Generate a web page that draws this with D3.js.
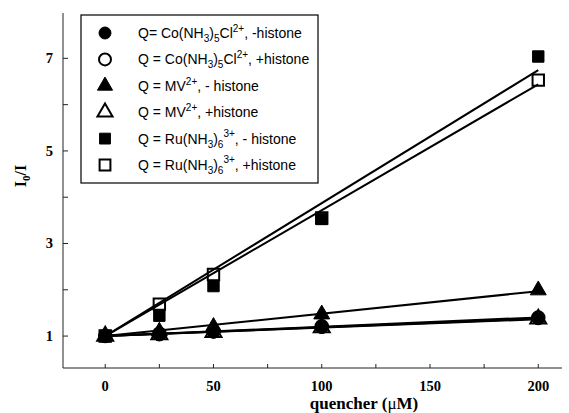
<!DOCTYPE html>
<html>
<head>
<meta charset="utf-8">
<script src="https://cdn.jsdelivr.net/npm/d3@7"></script>
<style>
  body { margin: 0; background: #fff; }
  svg text { fill: #000; }
</style>
</head>
<body>
<svg id="chart" width="569" height="413"></svg>
<script>
// quencher concentrations (uM)
var quencher = [0, 25, 50, 100, 200];

// I0/I values
var coMinus = [1.00, 1.03, 1.09, 1.19, 1.38];
var coPlus = [1.00, 1.05, 1.10, 1.21, 1.40];
var mvMinus = [1.00, 1.10, 1.20, 1.47, 1.99];
var mvPlus = [1.00, 1.03, 1.08, 1.18, 1.37];
var ruMinus = [1.00, 1.44, 2.08, 3.53, 7.04];
var ruPlus = [1.00, 1.69, 2.33, 3.55, 6.53];

var xTicks = [0, 50, 100, 150, 200];
var xMinor = [25, 75, 125, 175];
var yTicks = [1, 3, 5, 7];
var yMinor = [2, 4, 6];

var series = [
    { values: coPlus, shape: 'circle', filled: false },
    { values: mvPlus, shape: 'triangle', filled: false },
    { values: ruPlus, shape: 'square', filled: false },
    { values: coMinus, shape: 'circle', filled: true },
    { values: mvMinus, shape: 'triangle', filled: true },
    { values: ruMinus, shape: 'square', filled: true }
];

var svg = d3.select('#chart');
var x = d3.scaleLinear().domain([-19.5, 210.5]).range([63, 561]);
var y = d3.scaleLinear().domain([0.31, 7.98]).range([368, 13]);

var serif = '"Liberation Serif", "Times New Roman", serif';
var sans = '"Liberation Sans", Arial, sans-serif';

// axes (ticks pointing inward)
var xAxis = svg.append('g').attr('transform', 'translate(0,368)');
xAxis.append('line').attr('x1', 63).attr('x2', 562).attr('stroke', '#222');
xAxis.selectAll('.maj').data(xTicks.concat(xMinor)).enter().append('line')
    .attr('x1', function (d) { return x(d); })
    .attr('x2', function (d) { return x(d); })
    .attr('y1', 0).attr('y2', -4).attr('stroke', '#222');
xAxis.selectAll('text').data(xTicks).enter().append('text')
    .attr('x', function (d) { return x(d); })
    .attr('y', 23)
    .attr('text-anchor', 'middle')
    .style('font', 'bold 14.5px ' + serif)
    .text(function (d) { return d; });

var yAxis = svg.append('g').attr('transform', 'translate(63,0)');
yAxis.append('line').attr('y1', 13).attr('y2', 368).attr('stroke', '#222');
yAxis.selectAll('.maj').data(yTicks.concat(yMinor)).enter().append('line')
    .attr('y1', function (d) { return y(d); })
    .attr('y2', function (d) { return y(d); })
    .attr('x1', 0).attr('x2', 5).attr('stroke', '#222');
yAxis.selectAll('text').data(yTicks).enter().append('text')
    .attr('x', -10)
    .attr('y', function (d) { return y(d) + 5; })
    .attr('text-anchor', 'end')
    .style('font', 'bold 14.5px ' + serif)
    .text(function (d) { return d; });

// axis titles
var xt = svg.append('text')
    .attr('x', 364).attr('y', 409)
    .attr('text-anchor', 'middle')
    .style('font', 'bold 17px ' + serif);
xt.append('tspan').text('quencher (');
xt.append('tspan').style('font-weight', 'normal').text('\u03bc');
xt.append('tspan').text('M)');

var yt = svg.append('text')
    .attr('transform', 'translate(26,176) rotate(-90)')
    .attr('text-anchor', 'middle')
    .style('font', 'bold 16px ' + serif);
yt.append('tspan').text('I');
yt.append('tspan').attr('dy', 4).style('font-size', '11px').text('0');
yt.append('tspan').attr('dy', -4).text('/I');

// Stern-Volmer fits through (0, 1): slope = sum x(y-1) / sum x^2
function fitSlope(vals) {
    var num = d3.sum(quencher, function (q, i) { return q * (vals[i] - 1); });
    var den = d3.sum(quencher, function (q) { return q * q; });
    return num / den;
}

var fitLines = svg.append('g');
series.forEach(function (s) {
    var k = fitSlope(s.values);
    var ends = [0, 200];
    fitLines.append('line')
        .attr('x1', x(ends[0])).attr('y1', y(1 + k * ends[0]))
        .attr('x2', x(ends[1])).attr('y2', y(1 + k * ends[1]))
        .attr('stroke', '#000').attr('stroke-width', 2);
});

var symbolSize = { circle: 125, triangle: 110, square: 130 };
var symbolType = { circle: d3.symbolCircle, triangle: d3.symbolTriangle, square: d3.symbolSquare };

function marker(g, s, cx, cy, scale) {
    g.append('path')
        .attr('transform', 'translate(' + cx + ',' + cy + ')')
        .attr('d', d3.symbol().type(symbolType[s.shape]).size(symbolSize[s.shape] * (scale || 1))())
        .attr('fill', s.filled ? '#000' : 'none')
        .attr('stroke', '#000')
        .attr('stroke-width', s.filled ? 1 : 2);
}

var points = svg.append('g');
series.forEach(function (s) {
    quencher.forEach(function (q, i) {
        marker(points, s, x(q), y(s.values[i]));
    });
});

// legend
var legend = svg.append('g');
legend.append('rect')
    .attr('x', 81).attr('y', 15).attr('width', 237).attr('height', 168)
    .attr('fill', '#fff').attr('stroke', '#000').attr('stroke-width', 1.2);

var legendRows = [
    { s: series[3], parts: [['Q= Co(NH'], ['3', 'sub'], [')'], ['5', 'sub'], ['Cl'], ['2+', 'sup'], [', -histone']] },
    { s: series[0], parts: [['Q = Co(NH'], ['3', 'sub'], [')'], ['5', 'sub'], ['Cl'], ['2+', 'sup'], [', +histone']] },
    { s: series[4], parts: [['Q = MV'], ['2+', 'sup'], [', - histone']] },
    { s: series[1], parts: [['Q = MV'], ['2+', 'sup'], [', +histone']] },
    { s: series[5], parts: [['Q = Ru(NH'], ['3', 'sub'], [')'], ['6', 'sub'], ['3+', 'supx'], [', - histone']] },
    { s: series[2], parts: [['Q = Ru(NH'], ['3', 'sub'], [')'], ['6', 'sub'], ['3+', 'supx'], [', +histone']] }
];

legendRows.forEach(function (row, i) {
    var cy = 33 + i * 26.4;
    marker(legend, row.s, 105, cy, 0.9);
    var t = legend.append('text')
        .attr('x', 138).attr('y', cy + 5)
        .style('font', '14px ' + sans);
    var shift = 0;
    row.parts.forEach(function (p) {
        var target = 0;
        var size = null;
        if (p[1] === 'sub') { target = 4; size = '10px'; }
        if (p[1] === 'sup') { target = -6; size = '10px'; }
        if (p[1] === 'supx') { target = -7; size = '10px'; }
        var span = t.append('tspan').attr('dy', target - shift).text(p[0]);
        if (size) span.style('font-size', size);
        shift = target;
    });
});
</script>
</body>
</html>
